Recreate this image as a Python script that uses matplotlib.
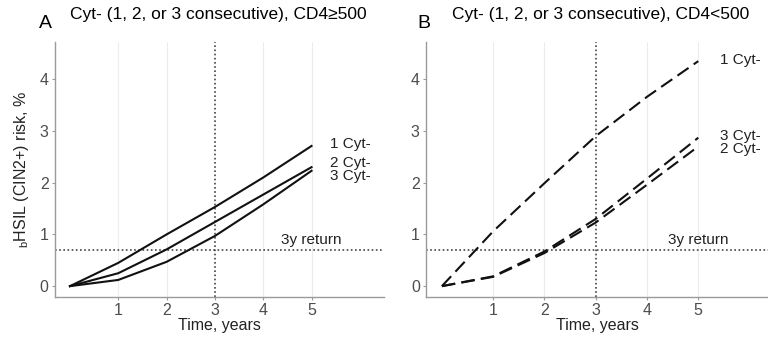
import numpy as np
import matplotlib
matplotlib.use("Agg")
import matplotlib.pyplot as plt

plt.rcParams['font.family'] = ['Liberation Sans', 'DejaVu Sans']
plt.rcParams['mathtext.fontset'] = 'custom'
plt.rcParams['mathtext.rm'] = 'Liberation Sans'
plt.rcParams['mathtext.it'] = 'Liberation Sans:italic'

years = [0, 1, 2, 3, 4, 5]

# panel A, CD4>=500
a_1cyt = [0, 0.45, 1.00, 1.53, 2.10, 2.71]
a_2cyt = [0, 0.25, 0.71, 1.24, 1.77, 2.30]
a_3cyt = [0, 0.12, 0.47, 0.97, 1.58, 2.23]

# panel B, CD4<500
b_1cyt = [0, 1.06, 1.99, 2.90, 3.66, 4.35]
b_2cyt = [0, 0.18, 0.64, 1.23, 1.96, 2.70]
b_3cyt = [0, 0.19, 0.67, 1.30, 2.08, 2.87]

labels = ["1 Cyt-", "2 Cyt-", "3 Cyt-"]
label_y_a = [2.74, 2.39, 2.12]
label_y_b = [4.38, 2.65, 2.91]

return_risk = 0.7
return_year = 3

fig = plt.figure(figsize=(7.68, 3.37), dpi=100)
axA = fig.add_axes([55/768, 1-297/337, (384-55)/768, (297-42)/337])
axB = fig.add_axes([426/768, 1-297/337, (768-426)/768, (297-42)/337])

grey = '#4d4d4d'

def style(ax, xmax):
    ax.set_xlim(-0.31, xmax)
    ax.set_ylim(-0.21, 4.72)
    ax.set_xticks([1, 2, 3, 4, 5])
    ax.set_yticks([0, 1, 2, 3, 4])
    for s in ['top', 'right']:
        ax.spines[s].set_visible(False)
    for s in ['left', 'bottom']:
        ax.spines[s].set_color('#9a9a9a')
        ax.spines[s].set_linewidth(1.0)
    ax.tick_params(axis='both', colors='#9a9a9a', labelcolor=grey,
                   labelsize=11.5, length=2.5, width=0.8, pad=2)
    for x in [1, 2, 4, 5]:
        ax.axvline(x, color='#ececec', lw=0.8, zorder=0)
    ax.axvline(return_year, color='#444444', lw=1.2, ls=(0, (1, 1.5)), zorder=1)
    ax.axhline(return_risk, color='#444444', lw=1.2, ls=(0, (1, 1.5)), zorder=1)
    ax.text(5.0, 0.89, "3y return", ha='center', va='center', fontsize=11, color='#222222')
    ax.set_xlabel("Time, years", fontsize=11.5, color='#222222', labelpad=0)

style(axA, 6.5)
style(axB, 6.36)

for ys in [a_1cyt, a_2cyt, a_3cyt]:
    axA.plot(years, ys, color='#111111', lw=1.5, solid_joinstyle='miter')
for ys in [b_1cyt, b_2cyt, b_3cyt]:
    axB.plot(years, ys, color='#111111', lw=1.5, ls=(0, (6.5, 3)))

for lab, y in zip(labels, label_y_a):
    axA.text(5.38, y, lab, ha='left', va='center', fontsize=11, color='#222222')
for lab, y in zip(labels, label_y_b):
    axB.text(5.42, y, lab, ha='left', va='center', fontsize=11, color='#222222')

axA.set_ylabel("$_\\mathrm{b}$HSIL (CIN2+) risk, %", fontsize=11.5, color='#222222', labelpad=6)

fig.text(45/768, 1-23/337, "A", fontsize=14, ha='center', va='center')
fig.text(70/768, 1-15/337, "Cyt- (1, 2, or 3 consecutive), CD4\u2265500", fontsize=12.5, ha='left', va='center')
fig.text(424/768, 1-23/337, "B", fontsize=14, ha='center', va='center')
fig.text(452/768, 1-15/337, "Cyt- (1, 2, or 3 consecutive), CD4<500", fontsize=12.5, ha='left', va='center')

fig.savefig("out.png", dpi=100)
